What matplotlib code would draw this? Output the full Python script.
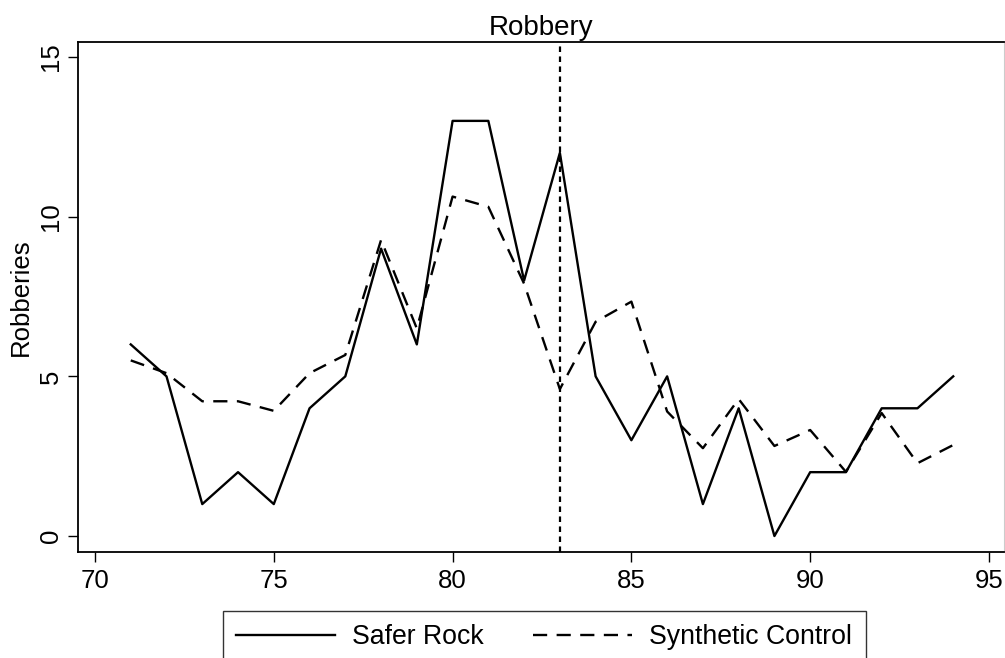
import matplotlib
matplotlib.use("Agg")
import matplotlib.pyplot as plt

plt.rcParams["font.family"] = ["Liberation Sans", "DejaVu Sans"]

years = list(range(71, 95))
safer_rock = [6, 5, 1, 2, 1, 4, 5, 9, 6, 13, 13, 8, 12, 5, 3, 5, 1, 4, 0, 2, 2, 4, 4, 5]
synthetic = [5.5, 5.1, 4.22, 4.22, 3.92, 5.1, 5.67, 9.27, 6.5, 10.63, 10.31, 7.9,
             4.6, 6.71, 7.34, 3.9, 2.75, 4.29, 2.82, 3.32, 2.01, 3.85, 2.28, 2.85]
xticks = [70, 75, 80, 85, 90, 95]
yticks = [0, 5, 10, 15]
treatment_year = 83

fig = plt.figure(figsize=(10.05, 6.58), dpi=100)
ax = fig.add_axes([78 / 1005, 1 - 552 / 658, 926 / 1005, 510 / 658])

ax.plot(years, safer_rock, color="black", lw=1.7, label="Safer Rock")
ax.plot(years, synthetic, color="black", lw=1.7, ls=(0, (6, 4)), label="Synthetic Control")
ax.axvline(treatment_year, color="black", lw=1.6, ls=(0, (2.5, 2)))

ax.set_xlim(69.525, 95.42)
ax.set_ylim(-0.5, 15.47)
ax.set_xticks(xticks)
ax.set_yticks(yticks)
ax.tick_params(axis="both", direction="out", length=7, width=1, labelsize=18.5, colors="black")
ax.tick_params(axis="x", pad=5)
ax.tick_params(axis="y", pad=4)
for lab in ax.get_yticklabels():
    lab.set_rotation(90)
    lab.set_va("center")

for side in ["left", "bottom", "top"]:
    ax.spines[side].set_linewidth(1.3)
    ax.spines[side].set_color("black")
ax.spines["right"].set_color("#cccccc")
ax.spines["right"].set_linewidth(0.8)

ax.set_ylabel("Robberies", fontsize=18.5, labelpad=4)
ax.set_title("Robbery", fontsize=20, pad=5)

leg = fig.legend(loc="upper left", bbox_to_anchor=(223 / 1005, 1 - 611 / 658),
                 ncol=2, fontsize=19.2, frameon=True, fancybox=False,
                 borderaxespad=0, handlelength=3.7, handletextpad=0.65,
                 columnspacing=1.85, borderpad=0.5)
leg.get_frame().set_edgecolor("black")
leg.get_frame().set_linewidth(1.0)

fig.savefig("out.png", dpi=100)
